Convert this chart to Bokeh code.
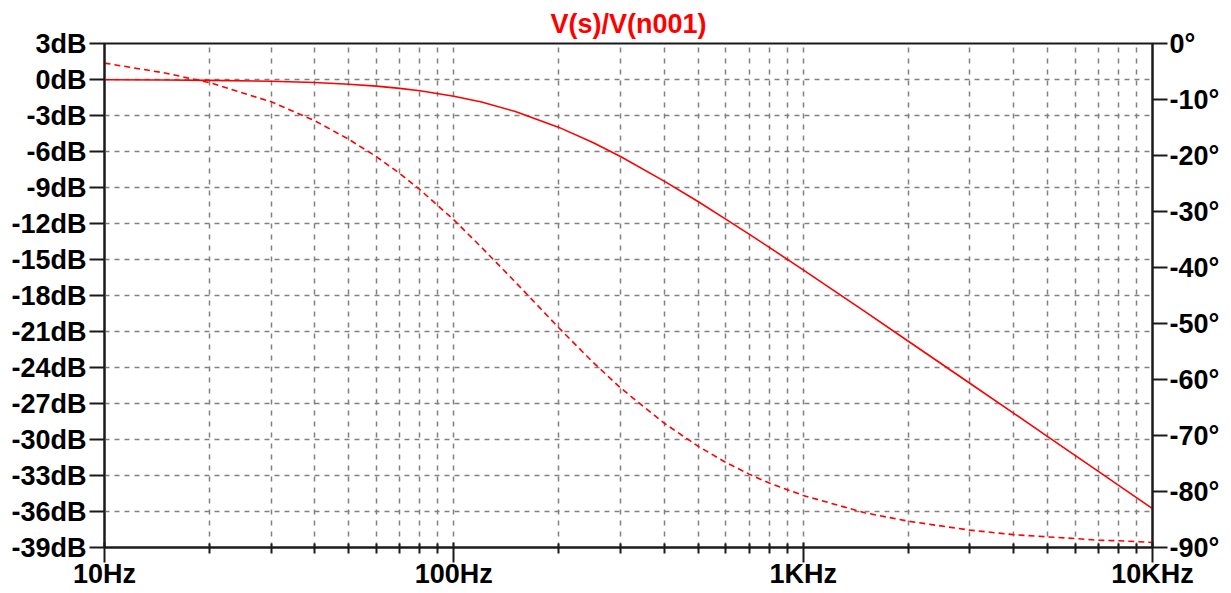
from bokeh.plotting import figure
from bokeh.models import Range1d, LinearAxis, FixedTicker, ColumnDataSource, Title
from bokeh.embed import file_html
from bokeh.resources import INLINE

# ---- data ----
freq = [10, 15, 20, 30, 40, 50, 60, 70, 80, 100, 120, 150, 200, 250, 300, 400, 500,
        600, 700, 800, 1000, 1500, 2000, 3000, 4000, 5000, 6000, 7000, 8000, 10000]
mag_db = [-0.02, -0.04, -0.07, -0.15, -0.25, -0.39, -0.55, -0.74, -0.94, -1.39, -1.88,
          -2.67, -3.99, -5.25, -6.42, -8.47, -10.17, -11.63, -12.89, -13.99, -15.87,
          -19.33, -21.81, -25.31, -27.80, -29.74, -31.32, -32.66, -33.82, -35.76]
phase_deg = [-3.5, -5.3, -7.0, -10.4, -13.8, -17.1, -20.2, -23.2, -26.1, -31.5, -36.4,
             -42.6, -50.8, -56.9, -61.5, -67.8, -71.9, -74.8, -76.9, -78.5, -80.7,
             -83.8, -85.3, -86.9, -87.7, -88.1, -88.4, -88.7, -88.8, -89.1]

x_major = [10, 100, 1000, 10000]
x_major_labels = ["10Hz", "100Hz", "1KHz", "10KHz"]
x_minor = [20, 30, 40, 50, 60, 70, 80, 90,
           200, 300, 400, 500, 600, 700, 800, 900,
           2000, 3000, 4000, 5000, 6000, 7000, 8000, 9000]
db_ticks = [3, 0, -3, -6, -9, -12, -15, -18, -21, -24, -27, -30, -33, -36, -39]
db_labels = ["3dB", "0dB", "-3dB", "-6dB", "-9dB", "-12dB", "-15dB", "-18dB", "-21dB",
             "-24dB", "-27dB", "-30dB", "-33dB", "-36dB", "-39dB"]
ph_ticks = [0, -10, -20, -30, -40, -50, -60, -70, -80, -90]
ph_labels = ["0°", "-10°", "-20°", "-30°", "-40°", "-50°", "-60°", "-70°", "-80°", "-90°"]
title_text = "V(s)/V(n001)"

RED = "#ff0000"
AX = "#1a1a1a"
GRID = "#808080"
FONT = "Liberation Sans"
FS = "27px"

p = figure(width=1223, height=591, x_axis_type="log",
           x_range=Range1d(10, 10000), y_range=Range1d(-39, 3),
           output_backend="svg", toolbar_location=None,
           min_border_left=104, min_border_right=71, min_border_top=43, min_border_bottom=43)
p.extra_y_ranges = {"phase": Range1d(-90, 0)}

t = Title(text=title_text, align="center", text_color=RED, text_font=FONT,
          text_font_size="27px", text_font_style="bold", standoff=9)
p.add_layout(t, "above")

p.outline_line_color = AX
p.outline_line_width = 2
p.outline_line_alpha = 1
p.background_fill_color = "white"
p.border_fill_color = "white"

xt = FixedTicker(ticks=x_major, minor_ticks=x_minor)
p.xaxis.ticker = xt
p.xgrid.ticker = xt
p.xaxis.major_label_overrides = {v: s for v, s in zip(x_major, x_major_labels)}

yt = FixedTicker(ticks=db_ticks)
p.yaxis.ticker = yt
p.ygrid.ticker = yt
p.yaxis.major_label_overrides = {v: s for v, s in zip(db_ticks, db_labels)}

rax = LinearAxis(y_range_name="phase", ticker=FixedTicker(ticks=ph_ticks))
rax.major_label_overrides = {v: s for v, s in zip(ph_ticks, ph_labels)}
p.add_layout(rax, "right")

for ax in [p.xaxis[0], p.yaxis[0], rax]:
    ax.axis_line_color = AX
    ax.axis_line_width = 2
    ax.major_tick_line_color = AX
    ax.major_tick_line_width = 2
    ax.major_tick_out = 15
    ax.major_tick_in = 0
    ax.minor_tick_line_color = None
    ax.major_label_text_font = FONT
    ax.major_label_text_font_size = FS
    ax.major_label_text_font_style = "bold"
    ax.major_label_text_color = "black"

p.xaxis.major_tick_in = 5
p.xaxis.minor_tick_line_color = AX
p.xaxis.minor_tick_line_width = 2
p.xaxis.minor_tick_in = 4
p.xaxis.minor_tick_out = 6
p.xaxis.major_label_standoff = -4
p.yaxis.major_label_standoff = 3
rax.major_label_standoff = 2

p.xgrid.grid_line_color = GRID
p.xgrid.grid_line_dash = "5 6"
p.xgrid.grid_line_width = 1.5
p.xgrid.minor_grid_line_color = GRID
p.xgrid.minor_grid_line_dash = "5 6"
p.xgrid.minor_grid_line_width = 1.5
p.ygrid.grid_line_color = GRID
p.ygrid.grid_line_dash = "5 5"
p.ygrid.grid_line_width = 1.5

src = ColumnDataSource(dict(f=freq, m=mag_db, ph=phase_deg))
p.line("f", "m", source=src, line_color=RED, line_width=1.6)
p.line("f", "ph", source=src, y_range_name="phase", line_color=RED, line_width=1.6,
       line_dash="6 4")

open("out.html", "w").write(file_html(p, INLINE))
